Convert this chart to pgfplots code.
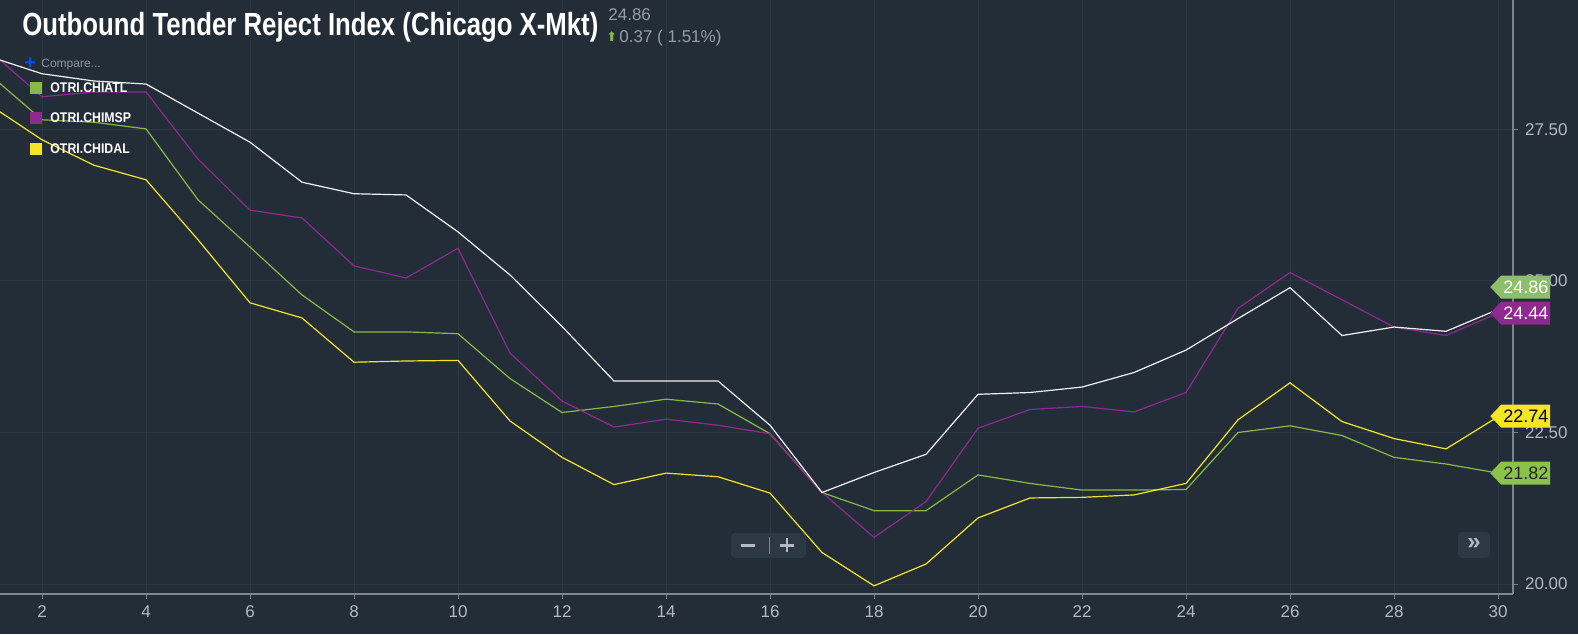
\documentclass[border=0pt]{standalone}
\usepackage{pgfplots}
\pgfplotsset{compat=1.18}
\usepackage{pgfplotstable}
\usepackage{graphicx}
\usepackage{fontspec}
\setmainfont{Liberation Sans}
\newfontfamily\symfont{DejaVu Sans}

\definecolor{bg}{HTML}{232D38}
\definecolor{gridc}{HTML}{2B3743}
\definecolor{axisc}{HTML}{7D848C}
\definecolor{tickc}{HTML}{B5B9BE}
\definecolor{wline}{HTML}{F2F2F2}
\definecolor{pline}{HTML}{8E2A8E}
\definecolor{gline}{HTML}{86BA45}
\definecolor{yline}{HTML}{F5E625}
\definecolor{gtag}{HTML}{8DBF6A}
\definecolor{gtag2}{HTML}{8BC34A}
\definecolor{btn}{HTML}{2C3844}

% daily values
\pgfplotstableread{
x  white purple green yellow
1  28.70 28.79 28.40 27.90
2  28.42 28.04 27.66 27.33
3  28.30 28.12 27.62 26.91
4  28.25 28.12 27.51 26.67
5  27.77 27.01 26.34 25.68
6  27.29 26.17 25.56 24.64
7  26.63 26.04 24.77 24.39
8  26.44 25.25 24.16 23.66
9  26.42 25.05 24.16 23.68
10 25.81 25.54 24.13 23.69
11 25.10 23.81 23.39 22.69
12 24.25 23.02 22.83 22.09
13 23.35 22.59 22.93 21.64
14 23.35 22.72 23.05 21.83
15 23.35 22.62 22.97 21.77
16 22.62 22.48 22.48 21.50
17 21.51 21.51 21.51 20.52
18 21.84 20.77 21.21 19.97
19 22.14 21.36 21.21 20.33
20 23.13 22.57 21.80 21.09
21 23.16 22.88 21.66 21.42
22 23.25 22.93 21.55 21.43
23 23.49 22.84 21.55 21.47
24 23.86 23.16 21.56 21.66
25 24.38 24.55 22.50 22.71
26 24.89 25.14 22.61 23.32
27 24.10 24.69 22.45 22.68
28 24.24 24.24 22.09 22.40
29 24.17 24.10 21.98 22.23
30 24.53 24.47 21.83 22.76
}\otri

\newcommand{\pricetag}[4]{%
  \fill[#2] (#1) -- ++(5.5pt,5.75pt) -- ++(24.5pt,0pt) -- ++(0pt,-11.5pt) -- ++(-24.5pt,0pt) -- cycle;
  \node[text=#3, font=\fontsize{9}{10}\selectfont, inner sep=0pt] at ([xshift=17.8pt]#1) {#4};
}

\begin{document}
\begin{tikzpicture}
\fill[bg] (0pt,0pt) rectangle (789pt,317pt);
\begin{axis}[
  at={(0pt,20pt)}, anchor=south west,
  width=756.5pt, height=297pt, scale only axis,
  xmin=1.192, xmax=30.288, ymin=19.835, ymax=29.637,
  axis x line*=bottom, axis y line*=right,
  axis line style={draw=axisc, line width=0.6pt},
  xtick={2,4,...,30},
  ytick={20,22.5,25,27.5},
  yticklabel style={/pgf/number format/fixed, /pgf/number format/fixed zerofill,
    /pgf/number format/precision=2},
  /pgf/number format/assume math mode=true,
  tick label style={font=\fontsize{8.5}{10}\selectfont, text=tickc},
  tick align=outside, major tick length=2.5pt,
  tick style={draw=axisc, line width=0.5pt},
  grid=major, grid style={draw=gridc, line width=0.5pt},
]
\addplot[draw=gline, line width=0.6pt] table[x=x, y=green] {\otri};
\addplot[draw=pline, line width=0.6pt] table[x=x, y=purple] {\otri};
\addplot[draw=yline, line width=0.6pt] table[x=x, y=yellow] {\otri};
\addplot[draw=wline, line width=0.6pt] table[x=x, y=white] {\otri};
\coordinate (t1) at (axis cs:29.85,24.90);
\coordinate (t2) at (axis cs:29.85,24.47);
\coordinate (t3) at (axis cs:29.85,22.77);
\coordinate (t4) at (axis cs:29.85,21.83);
\end{axis}

% price tags on the right axis
\pricetag{t1}{gtag}{white}{24.86}
\pricetag{t2}{pline}{white}{24.44}
\pricetag{t3}{yline}{black}{22.74}
\pricetag{t4}{gtag2}{black!85}{21.82}

% title and quote
\node[anchor=base west, inner sep=0pt, text=white, font=\bfseries\fontsize{16}{18}\selectfont]
  at (11pt,299.5pt) {\resizebox{288pt}{\height}{Outbound Tender Reject Index (Chicago X-Mkt)}};
\node[anchor=base west, inner sep=0pt, text=tickc!80!bg, font=\fontsize{8.5}{10}\selectfont]
  at (304pt,307pt) {24.86};
\node[anchor=base west, inner sep=0pt, text=gline, font=\symfont\fontsize{6.5}{7}\selectfont]
  at (303pt,296.5pt) {⬆};
\node[anchor=base west, inner sep=0pt, text=tickc!80!bg, font=\fontsize{8.5}{10}\selectfont]
  at (309.5pt,296pt) {0.37 ( 1.51\%)};

% legend
\node[anchor=west, inner sep=0pt, text=blue!70!cyan, font=\bfseries\fontsize{10}{10}\selectfont] at (12pt,285pt) {+};
\node[anchor=west, inner sep=0pt, text=tickc!75!bg, font=\fontsize{6}{7}\selectfont] at (20.5pt,284.5pt) {Compare...};
\fill[gline] (14.8pt,270pt) rectangle (20.8pt,276pt);
\fill[pline] (14.8pt,255pt) rectangle (20.8pt,261pt);
\fill[yline] (14.8pt,239.5pt) rectangle (20.8pt,245.5pt);
\node[anchor=west, inner sep=0pt, text=white, font=\bfseries\fontsize{7}{8}\selectfont] at (25pt,273pt) {\scalebox{0.88}[1]{OTRI.CHIATL}};
\node[anchor=west, inner sep=0pt, text=white, font=\bfseries\fontsize{7}{8}\selectfont] at (25pt,258pt) {\scalebox{0.88}[1]{OTRI.CHIMSP}};
\node[anchor=west, inner sep=0pt, text=white, font=\bfseries\fontsize{7}{8}\selectfont] at (25pt,242.5pt) {\scalebox{0.88}[1]{OTRI.CHIDAL}};

% zoom buttons
\fill[btn, rounded corners=2pt] (365.5pt,38pt) rectangle (403pt,50.5pt);
\draw[gridc!60!white, line width=0.4pt] (384.5pt,40pt) -- (384.5pt,48.5pt);
\draw[tickc, line width=1.3pt] (370.5pt,44.3pt) -- (377.5pt,44.3pt);
\draw[tickc, line width=1.3pt] (390pt,44.3pt) -- (397pt,44.3pt) (393.5pt,40.8pt) -- (393.5pt,47.8pt);
\fill[btn, rounded corners=2pt] (729pt,38pt) rectangle (745pt,51pt);
\node[text=tickc, font=\bfseries\fontsize{12}{12}\selectfont, inner sep=0pt] at (737pt,45pt) {»};

\pgfresetboundingbox
\path (0pt,0pt) rectangle (789pt,317pt);
\end{tikzpicture}
\end{document}
